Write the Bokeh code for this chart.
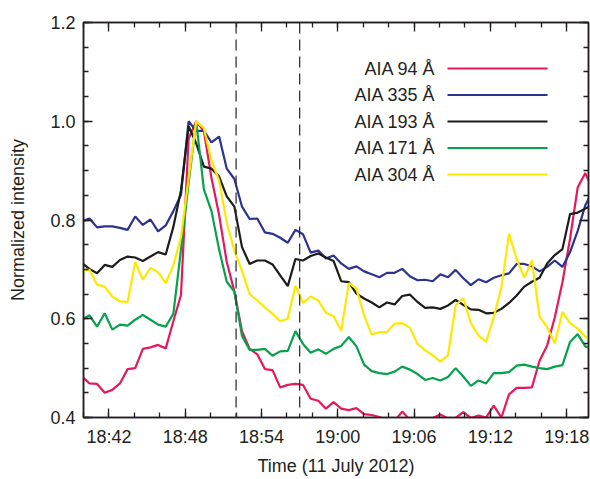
import pandas as pd
from bokeh.plotting import figure
from bokeh.models import (FixedTicker, DatetimeAxis, LinearAxis, Range1d, Span, Label,
                          BoxAnnotation, DatetimeTickFormatter, PrintfTickFormatter,
                          CustomJSTickFormatter, CustomLabelingPolicy)
from bokeh.embed import file_html
from bokeh.resources import INLINE

# ---------------- data ----------------
DATE = "2012-07-11"
first_time = "18:39:52"      # time of first sample
cadence_s = 36               # seconds between samples

aia94 = [0.483, 0.469, 0.468, 0.450, 0.456, 0.469, 0.498, 0.500, 0.539, 0.542,
         0.547, 0.540, 0.595, 0.648, 0.965, 1.000, 0.980, 0.885, 0.810, 0.715,
         0.655, 0.575, 0.539, 0.528, 0.498, 0.496, 0.461, 0.466, 0.468, 0.466,
         0.438, 0.434, 0.418, 0.431, 0.418, 0.415, 0.419, 0.407, 0.405, 0.401,
         0.395, 0.393, 0.412, 0.395, 0.392, 0.394, 0.399, 0.406, 0.398, 0.399,
         0.411, 0.399, 0.404, 0.400, 0.424, 0.400, 0.447, 0.460, 0.460, 0.461,
         0.515, 0.546, 0.603, 0.674, 0.762, 0.866, 0.895, 0.860]

aia335 = [0.797, 0.803, 0.785, 0.787, 0.787, 0.784, 0.780, 0.807, 0.790, 0.801,
          0.777, 0.789, 0.818, 0.851, 1.000, 0.980, 0.981, 0.957, 0.969, 0.904,
          0.883, 0.827, 0.802, 0.803, 0.775, 0.772, 0.764, 0.754, 0.780, 0.771,
          0.734, 0.738, 0.722, 0.728, 0.712, 0.701, 0.706, 0.696, 0.690, 0.684,
          0.693, 0.693, 0.701, 0.686, 0.678, 0.679, 0.676, 0.690, 0.684, 0.699,
          0.682, 0.668, 0.680, 0.674, 0.683, 0.688, 0.692, 0.711, 0.711, 0.706,
          0.696, 0.705, 0.718, 0.705, 0.735, 0.778, 0.830, 0.860]

aia193 = [0.713, 0.701, 0.692, 0.709, 0.705, 0.719, 0.726, 0.724, 0.717, 0.726,
          0.735, 0.730, 0.786, 0.860, 0.990, 0.955, 0.908, 0.904, 0.888, 0.848,
          0.827, 0.745, 0.711, 0.718, 0.718, 0.710, 0.688, 0.666, 0.721, 0.718,
          0.727, 0.732, 0.724, 0.717, 0.676, 0.674, 0.651, 0.641, 0.633, 0.623,
          0.633, 0.629, 0.646, 0.649, 0.634, 0.622, 0.623, 0.620, 0.627, 0.638,
          0.628, 0.619, 0.618, 0.611, 0.612, 0.620, 0.632, 0.647, 0.665, 0.675,
          0.683, 0.712, 0.729, 0.741, 0.812, 0.815, 0.823, 0.831]

aia171 = [0.598, 0.607, 0.584, 0.611, 0.578, 0.588, 0.586, 0.598, 0.608, 0.598,
          0.588, 0.584, 0.610, 0.740, 0.875, 1.000, 0.862, 0.818, 0.740, 0.675,
          0.655, 0.565, 0.537, 0.537, 0.539, 0.525, 0.534, 0.535, 0.575, 0.549,
          0.531, 0.538, 0.529, 0.539, 0.545, 0.563, 0.544, 0.507, 0.494, 0.490,
          0.488, 0.493, 0.503, 0.497, 0.488, 0.476, 0.480, 0.475, 0.482, 0.500,
          0.483, 0.464, 0.475, 0.469, 0.490, 0.490, 0.492, 0.505, 0.507, 0.503,
          0.500, 0.498, 0.503, 0.506, 0.553, 0.569, 0.544, 0.539]

aia304 = [0.699, 0.699, 0.669, 0.665, 0.645, 0.635, 0.634, 0.715, 0.679, 0.703,
          0.694, 0.672, 0.708, 0.765, 0.885, 1.000, 0.986, 0.920, 0.880, 0.795,
          0.738, 0.697, 0.650, 0.637, 0.623, 0.610, 0.595, 0.600, 0.667, 0.632,
          0.645, 0.637, 0.612, 0.605, 0.576, 0.672, 0.661, 0.607, 0.568, 0.573,
          0.573, 0.590, 0.591, 0.582, 0.549, 0.536, 0.526, 0.513, 0.526, 0.627,
          0.642, 0.591, 0.566, 0.553, 0.603, 0.664, 0.772, 0.721, 0.683, 0.718,
          0.605, 0.583, 0.550, 0.614, 0.591, 0.580, 0.564, 0.552]

series_labels = ["AIA 94 Å", "AIA 335 Å", "AIA 193 Å", "AIA 171 Å", "AIA 304 Å"]
series_values = [aia94, aia335, aia193, aia171, aia304]
series_colors = ["#e6185c", "#2b3290", "#1c1c1c", "#07a04c", "#ffe800"]

x_tick_labels = ["18:42", "18:48", "18:54", "19:00", "19:06", "19:12", "19:18"]
y_ticks = [0.4, 0.6, 0.8, 1.0, 1.2]
marker_times = ["18:52", "18:57"]
x_start, x_end = "18:40:00", "19:19:43"
y_start, y_end = 0.4, 1.2

# ---------------- helpers ----------------
def ts(hm):
    return pd.Timestamp(f"{DATE} {hm}")

def ms(hm):
    return ts(hm).value / 1e6

times = pd.date_range(ts(first_time), periods=len(aia94), freq=f"{cadence_s}s")

TEXT = "#231f20"
FONT = "Liberation Sans"
FS = "18px"

p = figure(width=590, height=479, x_axis_type="datetime",
           x_range=Range1d(ts(x_start), ts(x_end)), y_range=Range1d(y_start, y_end),
           output_backend="svg", toolbar_location=None,
           min_border_left=83, min_border_right=2, min_border_top=22, min_border_bottom=62)
p.background_fill_color = "white"
p.border_fill_color = "white"
p.outline_line_color = TEXT
p.outline_line_width = 1.5
p.xgrid.visible = False
p.ygrid.visible = False

# ticks
x_major = [ms(t) for t in x_tick_labels]
x_minor = [ms(x_start) + i * 120000 for i in range(21)]
y_minor = [round(y_start + 0.05 * i, 2) for i in range(17)]
xticker = FixedTicker(ticks=x_major, minor_ticks=x_minor)
yticker = FixedTicker(ticks=y_ticks, minor_ticks=y_minor)
fmt_fields = dict(microseconds="%H:%M", milliseconds="%H:%M", seconds="%H:%M",
                  minsec="%H:%M", minutes="%H:%M", hourmin="%H:%M", hours="%H:%M",
                  days="%H:%M", months="%H:%M", years="%H:%M")

def style_axis(ax):
    ax.axis_line_color = TEXT
    ax.axis_line_width = 1.5
    ax.major_tick_line_color = TEXT
    ax.minor_tick_line_color = TEXT
    ax.major_tick_line_width = 1.3
    ax.minor_tick_line_width = 1.3
    ax.major_tick_in = 9
    ax.major_tick_out = 0
    ax.minor_tick_in = 5
    ax.minor_tick_out = 0
    ax.major_label_text_font = FONT
    ax.major_label_text_color = TEXT
    ax.major_label_text_font_size = FS

xa = p.xaxis[0]
xa.ticker = xticker
xa.formatter = DatetimeTickFormatter(**fmt_fields)
style_axis(xa)
xa.major_label_standoff = 9
xa.axis_label = "Time (11 July 2012)"
xa.axis_label_text_font = FONT
xa.axis_label_text_font_size = FS
xa.axis_label_text_font_style = "normal"
xa.axis_label_text_color = TEXT
xa.axis_label_standoff = 6

ya = p.yaxis[0]
ya.ticker = yticker
ya.formatter = PrintfTickFormatter(format="%.1f")
style_axis(ya)
ya.major_label_standoff = 8
ya.axis_label = "Normalized intensity"
ya.axis_label_text_font = FONT
ya.axis_label_text_font_size = FS
ya.axis_label_text_font_style = "normal"
ya.axis_label_text_color = TEXT
ya.axis_label_standoff = 19

# mirrored tick-only axes on top and right (no labels drawn)
top_ax = DatetimeAxis(ticker=xticker, formatter=CustomJSTickFormatter(code="return ''"),
                      major_label_policy=CustomLabelingPolicy(code="return new Set()"))
style_axis(top_ax)
top_ax.major_label_standoff = 0
top_ax.major_label_text_font_size = "11px"
p.add_layout(top_ax, "above")
right_ax = LinearAxis(ticker=yticker, formatter=CustomJSTickFormatter(code="return ''"),
                      major_label_policy=CustomLabelingPolicy(code="return new Set()"))
style_axis(right_ax)
right_ax.major_label_standoff = 0
right_ax.major_label_text_font_size = "11px"
p.add_layout(right_ax, "right")

# dashed markers
for t in marker_times:
    p.add_layout(Span(location=ms(t), dimension="height", line_color="#333333",
                      line_width=1.3, line_dash="11 6"))

# curves
for vals, col in zip(series_values, series_colors):
    p.line(times, vals, line_color=col, line_width=2.2)

# legend (labels right-aligned, line sample to the right)
leg_text_right = 352
leg_line_left, leg_line_right = 364, 464
leg_top_y = 349
leg_step = 26.5
for i, (lab, col) in enumerate(zip(series_labels, series_colors)):
    yc = leg_top_y - leg_step * i
    p.add_layout(Label(x=leg_text_right, y=yc, x_units="screen", y_units="screen",
                       text=lab, text_align="right", text_baseline="middle",
                       text_font=FONT, text_font_size=FS, text_color=TEXT))
    p.add_layout(BoxAnnotation(left=leg_line_left, right=leg_line_right,
                               bottom=yc - 1.1, top=yc + 1.1,
                               left_units="screen", right_units="screen",
                               bottom_units="screen", top_units="screen",
                               fill_color=col, fill_alpha=1.0, line_alpha=0))

open("out.html", "w").write(file_html(p, INLINE))
